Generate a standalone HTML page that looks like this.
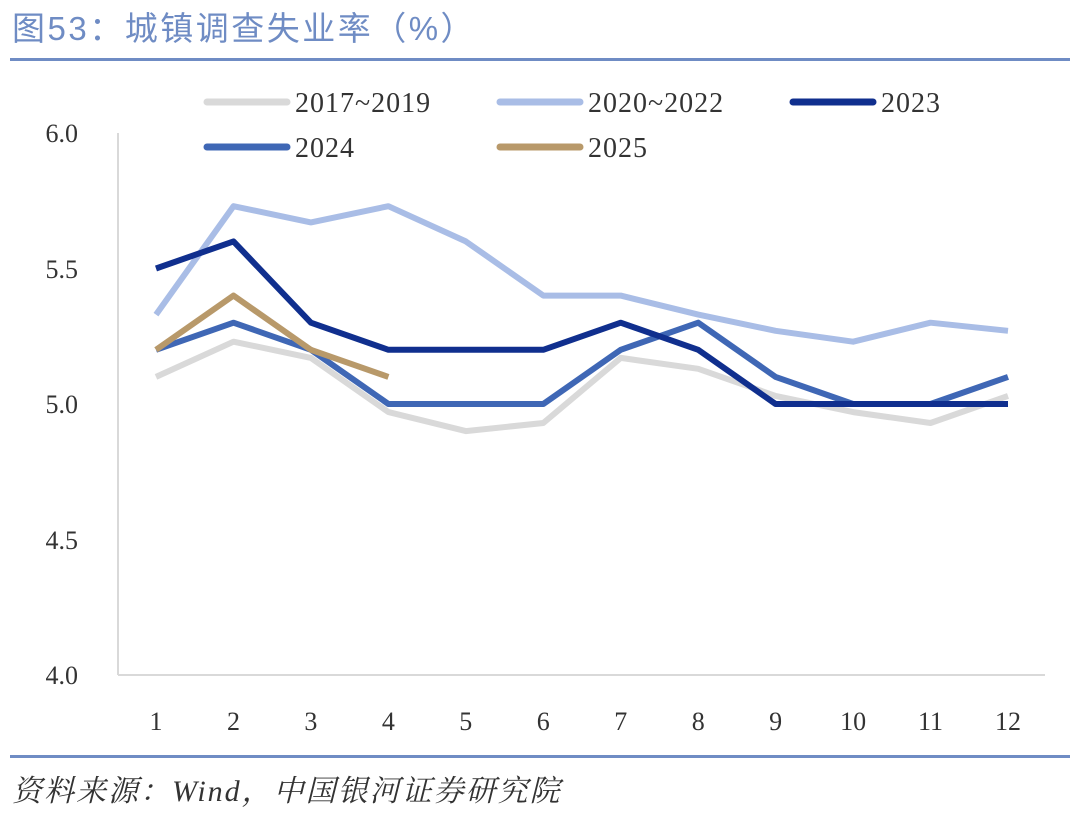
<!DOCTYPE html>
<html><head><meta charset="utf-8"><style>
body{margin:0;background:#fff;width:1080px;height:820px;overflow:hidden}
svg text{font-family:"Liberation Serif","Noto Serif CJK SC",serif}
</style></head><body>
<svg width="1080" height="820" viewBox="0 0 1080 820" xmlns="http://www.w3.org/2000/svg">
<text x="12" y="40" font-size="33" letter-spacing="2.5" fill="#6f8cc4" style="font-family:'Liberation Sans','Noto Sans CJK SC',sans-serif">图53：城镇调查失业率（%）</text>
<rect x="10" y="58" width="1060" height="3" fill="#6f8cc4"/>
<rect x="10" y="755" width="1060" height="3" fill="#6f8cc4"/>
<text x="12" y="801" font-size="30" letter-spacing="2" fill="#333" font-style="italic">资料来源：Wind，中国银河证券研究院</text>
<line x1="118" y1="133" x2="118" y2="675" stroke="#d9d9d9" stroke-width="2"/>
<line x1="118" y1="675" x2="1045" y2="675" stroke="#d9d9d9" stroke-width="2"/>
<g font-size="26" fill="#333" text-anchor="end">
<text x="78" y="142">6.0</text><text x="78" y="278">5.5</text><text x="78" y="413">5.0</text><text x="78" y="549">4.5</text><text x="78" y="684">4.0</text>
</g>
<g font-size="26" fill="#333" text-anchor="middle">
<text x="156" y="730">1</text><text x="233.5" y="730">2</text><text x="310.9" y="730">3</text><text x="388.4" y="730">4</text><text x="465.8" y="730">5</text><text x="543.3" y="730">6</text><text x="620.7" y="730">7</text><text x="698.2" y="730">8</text><text x="775.6" y="730">9</text><text x="853.1" y="730">10</text><text x="930.5" y="730">11</text><text x="1008" y="730">12</text>
</g>
<g fill="none" stroke-width="6" stroke-linejoin="round">
<polyline stroke="#d9d9d9" points="156,376.9 233.5,341.7 310.9,357.9 388.4,412.1 465.8,431.1 543.3,423 620.7,357.9 698.2,368.8 775.6,395.9 853.1,412.1 930.5,423 1008,395.9"/>
<polyline stroke="#a9bde6" points="156,314.6 233.5,206.2 310.9,222.4 388.4,206.2 465.8,241.4 543.3,295.6 620.7,295.6 698.2,314.6 775.6,330.8 853.1,341.7 930.5,322.7 1008,330.8"/>
<polyline stroke="#3f67b5" points="156,349.8 233.5,322.7 310.9,349.8 388.4,404 465.8,404 543.3,404 620.7,349.8 698.2,322.7 775.6,376.9 853.1,404 930.5,404 1008,376.9"/>
<polyline stroke="#102f8e" points="156,268.5 233.5,241.4 310.9,322.7 388.4,349.8 465.8,349.8 543.3,349.8 620.7,322.7 698.2,349.8 775.6,404 853.1,404 930.5,404 1008,404"/>
<polyline stroke="#b8996a" points="156,349.8 233.5,295.6 310.9,349.8 388.4,376.9"/>
</g>
<g stroke-width="7" stroke-linecap="round">
<line x1="207" y1="102" x2="287" y2="102" stroke="#d9d9d9"/>
<line x1="500" y1="102" x2="580" y2="102" stroke="#a9bde6"/>
<line x1="793" y1="102" x2="873" y2="102" stroke="#102f8e"/>
<line x1="207" y1="147" x2="287" y2="147" stroke="#3f67b5"/>
<line x1="500" y1="147" x2="580" y2="147" stroke="#b8996a"/>
</g>
<g font-size="28" letter-spacing="1" fill="#333">
<text x="295" y="112">2017~2019</text><text x="588" y="112">2020~2022</text><text x="881" y="112">2023</text>
<text x="295" y="157">2024</text><text x="588" y="157">2025</text>
</g>
</svg>
</body></html>
